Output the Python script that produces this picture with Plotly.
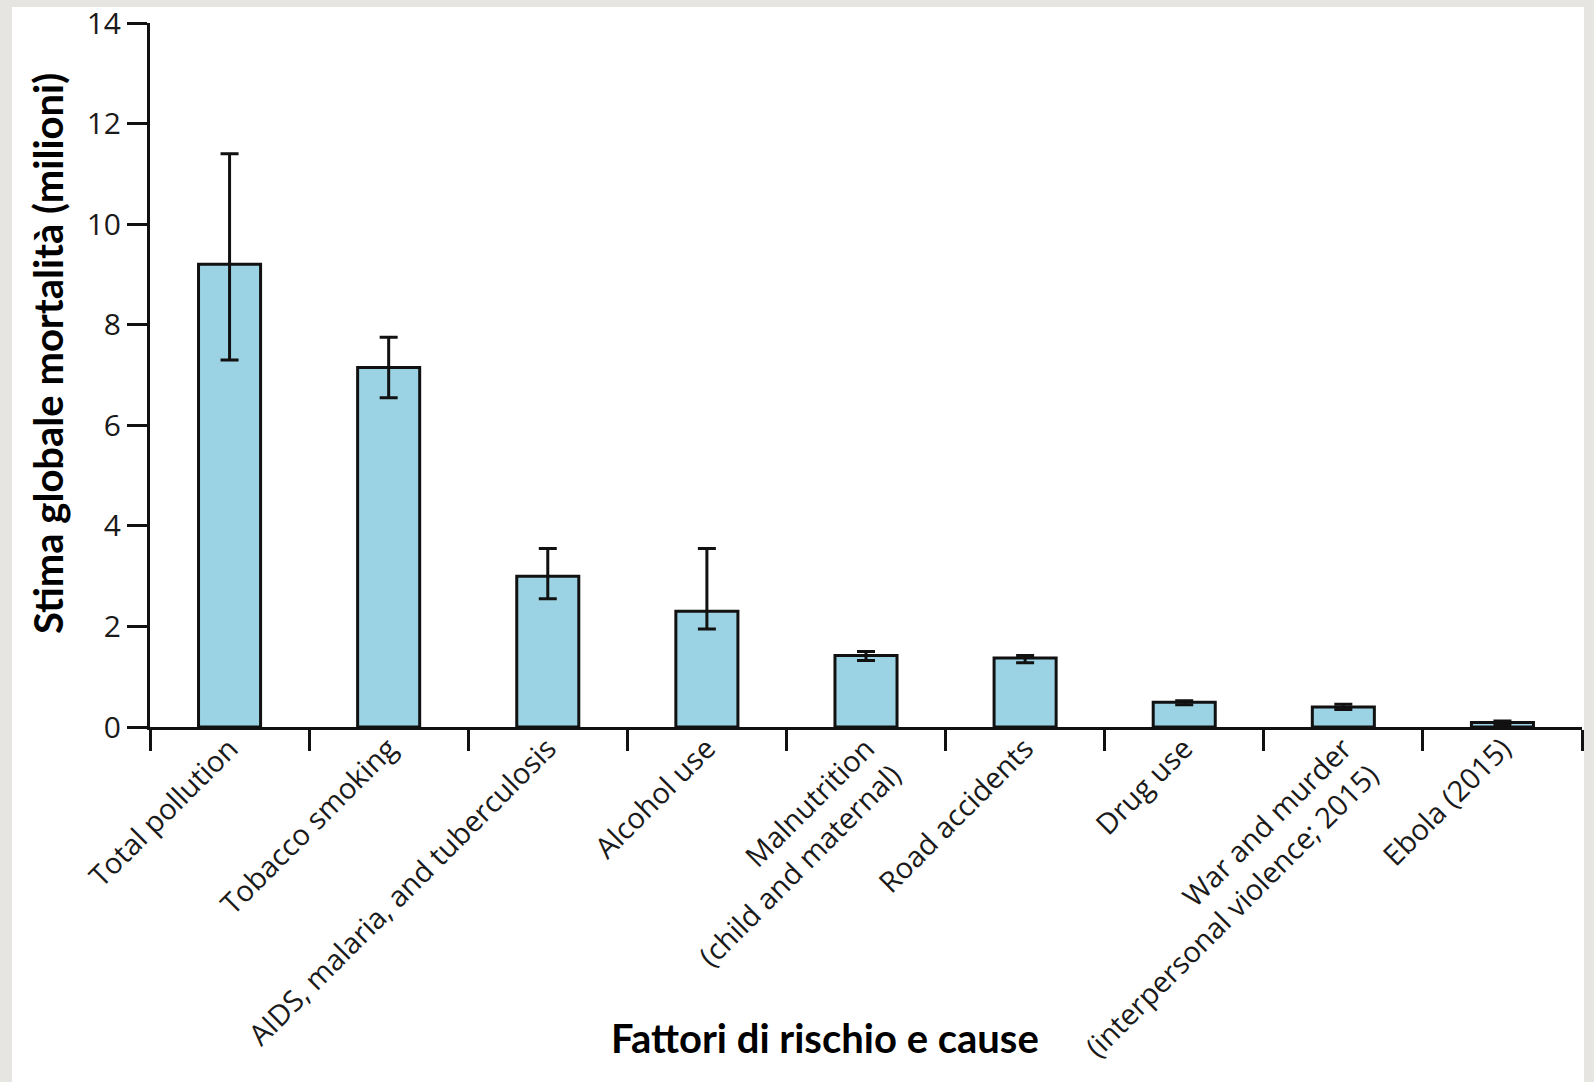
import plotly.graph_objects as go

# Global mortality estimates by risk factor / cause (millions of deaths)
categories = [
    "Total pollution",
    "Tobacco smoking",
    "AIDS, malaria, and tuberculosis",
    "Alcohol use",
    "Malnutrition<br>(child and maternal)",
    "Road accidents",
    "Drug use",
    "War and murder<br>(interpersonal violence; 2015)",
    "Ebola (2015)",
]
deaths = [9.2, 7.15, 3.0, 2.3, 1.42, 1.37, 0.49, 0.40, 0.09]
upper = [11.4, 7.75, 3.55, 3.55, 1.50, 1.42, 0.52, 0.45, 0.12]
lower = [7.3, 6.55, 2.55, 1.95, 1.32, 1.28, 0.44, 0.35, 0.04]

y_ticks = [0, 2, 4, 6, 8, 10, 12, 14]

err_plus = [u - v for u, v in zip(upper, deaths)]
err_minus = [v - l for v, l in zip(deaths, lower)]

BAR_FILL = "#9cd3e4"
INK = "#111111"
X_TICK_FONT = dict(family="Open Sans", size=29, color="#1a1a1a")
Y_TICK_FONT = dict(family="Open Sans", size=30, color="#1a1a1a")
TITLE_FONT = dict(family="Lato", size=40, color="#000000")

fig = go.Figure(
    go.Bar(
        x=categories,
        y=deaths,
        marker=dict(color=BAR_FILL, line=dict(color=INK, width=3)),
        error_y=dict(
            type="data",
            symmetric=False,
            array=err_plus,
            arrayminus=err_minus,
            color=INK,
            thickness=3,
            width=9,
        ),
        showlegend=False,
    )
)

W, H = 1594, 1082
L, R, T, B = 150, 12, 23, 355
plot_w = W - L - R
plot_h = H - T - B

# white card on a light grey page
fig.add_shape(
    type="rect",
    xref="paper", yref="paper",
    x0=(12 - L) / plot_w, x1=(1584 - L) / plot_w,
    y0=-0.7, y1=(H - B - 7) / plot_h,
    fillcolor="white", line=dict(width=0), layer="below",
)

fig.update_layout(
    width=W,
    height=H,
    margin=dict(l=L, r=R, t=T, b=B, pad=0, autoexpand=False),
    paper_bgcolor="#e6e5e2",
    plot_bgcolor="white",
    bargap=0.61,
    font=X_TICK_FONT,
    annotations=[
        dict(
            text="<b>Stima globale mortalità (milioni)</b>",
            xref="paper", yref="paper",
            x=(48 - L) / plot_w, y=(H - B - 354) / plot_h,
            textangle=-90, showarrow=False,
            font=TITLE_FONT, xanchor="center", yanchor="middle",
        ),
        dict(
            text="<b>Fattori di rischio e cause</b>",
            xref="paper", yref="paper",
            x=(825 - L) / plot_w, y=(H - B - 1038) / plot_h,
            showarrow=False,
            font=TITLE_FONT, xanchor="center", yanchor="middle",
        ),
    ],
)

fig.update_xaxes(
    type="category", automargin=False,
    showline=True, linecolor=INK, linewidth=3,
    ticks="outside", tickson="boundaries", ticklen=21, tickwidth=3, tickcolor=INK,
    tickangle=-45, tickfont=X_TICK_FONT,
    ticklabelstandoff=-10,
    showgrid=False, zeroline=False,
)
fig.update_yaxes(
    range=[0, 14], automargin=False,
    tickvals=y_ticks,
    showline=True, linecolor=INK, linewidth=3,
    ticks="outside", ticklen=20, tickwidth=3, tickcolor=INK,
    tickfont=Y_TICK_FONT, ticklabeloverflow="allow",
    showgrid=False, zeroline=False,
)

fig.write_html("out.html")
